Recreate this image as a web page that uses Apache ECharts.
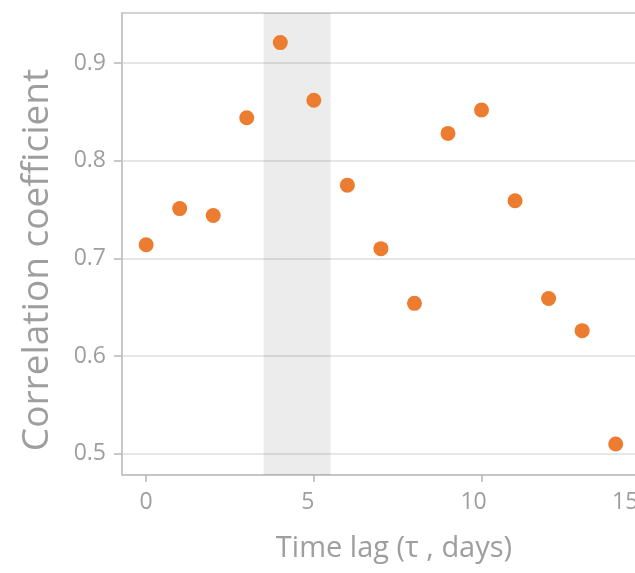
<!DOCTYPE html>
<html>
<head>
<meta charset="utf-8">
<script src="https://cdn.jsdelivr.net/npm/echarts@6/dist/echarts.min.js"></script>
<style>
  html, body { margin: 0; padding: 0; background: #fff; }
  #chart { width: 635px; height: 573px; }
</style>
</head>
<body>
<div id="chart"></div>
<script>
// time lag in days and the correlation at each lag
var lags = [0, 1, 2, 3, 4, 5, 6, 7, 8, 9, 10, 11, 12, 13, 14];
var corr = [0.714, 0.751, 0.744, 0.844, 0.921, 0.862, 0.775, 0.710, 0.654, 0.828, 0.852, 0.759, 0.659, 0.626, 0.510];
var xTicks = [0, 5, 10, 15];
var yTicks = [0.5, 0.6, 0.7, 0.8, 0.9];
var band = [3.5, 5.5];

var grey = '#9e9e9e';
var points = lags.map(function (x, i) { return [x, corr[i]]; });

// tiny nudges so the x labels sit where the original put them
var xShift = { 0: 0, 5: 12, 10: 16, 15: 48 };

var chart = echarts.init(document.getElementById('chart'));
var option = {
    animation: false,
    grid: {
        left: 122,
        top: 13,
        bottom: 98,
        right: -31,
        show: true,
        borderColor: '#c4c4c4',
        borderWidth: 1.5,
        outerBoundsMode: 'none'
    },
    xAxis: {
        type: 'value',
        min: -0.72,
        max: 15.5,
        name: 'Time lag (\u03c4 , days)',
        nameLocation: 'middle',
        nameGap: 59,
        nameTextStyle: { color: grey, fontFamily: 'Open Sans', fontSize: 29 },
        axisLine: { show: true, onZero: false, lineStyle: { color: '#c4c4c4', width: 1.5 } },
        axisTick: { show: true, length: 7, customValues: xTicks, lineStyle: { color: '#b5b5b5', width: 1.5 } },
        axisLabel: {
            customValues: xTicks,
            margin: 16,
            color: grey,
            fontFamily: 'Open Sans',
            fontSize: 23,
            formatter: function (v) { return '{s' + v + '|' + v + '}'; },
            rich: {
                s0: { padding: [0, 0, 0, 0] },
                s5: { padding: [0, xShift[5], 0, 0] },
                s10: { padding: [0, xShift[10], 0, 0] },
                s15: { padding: [0, xShift[15], 0, 0] }
            }
        },
        splitLine: { show: false }
    },
    yAxis: {
        type: 'value',
        min: 0.4782,
        max: 0.9513,
        name: 'Correlation coefficient',
        nameLocation: 'middle',
        nameGap: 66,
        nameTextStyle: { color: grey, fontFamily: 'Open Sans', fontSize: 37, padding: [0, 32, 0, 0] },
        axisLine: { show: true, onZero: false, lineStyle: { color: '#c4c4c4', width: 1.5 } },
        axisTick: { show: true, length: 8, customValues: yTicks, lineStyle: { color: '#b5b5b5', width: 1.5 } },
        axisLabel: {
            customValues: yTicks,
            margin: 16,
            color: grey,
            fontFamily: 'Open Sans',
            fontSize: 23,
            formatter: function (v) { return v.toFixed(1); }
        },
        splitLine: { show: true, lineStyle: { color: '#dedede', width: 1.5 } }
    },
    series: [
        {
            type: 'scatter',
            data: points,
            symbolSize: 15,
            itemStyle: { color: '#ec7c30', opacity: 1 },
            markArea: {
                silent: true,
                itemStyle: { color: 'rgba(0,0,0,0.075)' },
                data: [[{ xAxis: band[0] }, { xAxis: band[1] }]]
            }
        }
    ]
};
chart.setOption(option);
</script>
</body>
</html>
